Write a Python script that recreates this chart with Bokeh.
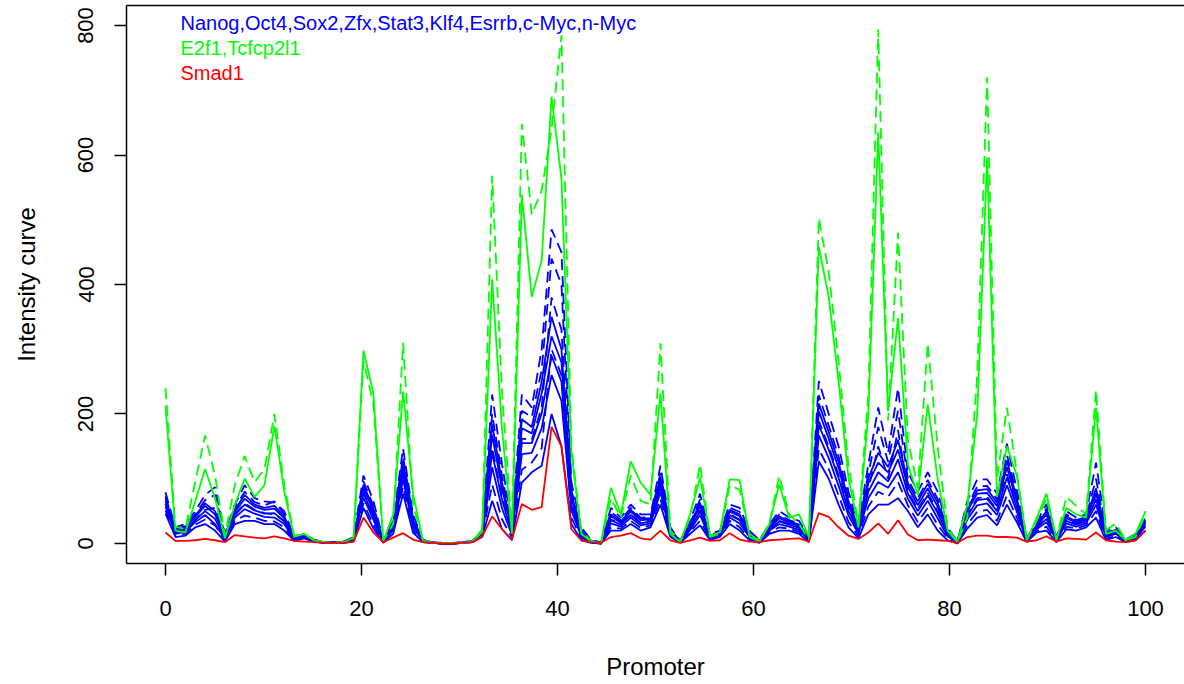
import numpy as np
from bokeh.plotting import figure
from bokeh.models import Range1d, Label, FixedTicker, LinearAxis
from bokeh.embed import file_html
from bokeh.resources import INLINE

# promoter positions (100 points spread over 0..100)
promoter = np.linspace(0, 100, 100)

nanog = [70, 21, 25, 43, 62, 50, 12, 52, 75, 60,
         55, 58, 42, 8, 13, 5, 2, 1, 2, 8,
         91, 54, 4, 29, 127, 37, 5, 1, 1, 1,
         1, 3, 17, 184, 94, 23, 192, 180, 250, 350,
         300, 77, 19, 4, 1, 45, 34, 52, 38, 39,
         103, 21, 3, 29, 63, 12, 17, 52, 45, 16,
         4, 26, 42, 34, 29, 8, 216, 172, 125, 65,
         24, 100, 140, 118, 160, 93, 65, 92, 63, 19,
         2, 54, 82, 84, 63, 128, 69, 6, 28, 50,
         8, 42, 34, 39, 85, 16, 21, 5, 12, 34]
oct4 = [79, 25, 30, 50, 75, 87, 15, 60, 90, 70,
        65, 63, 50, 10, 15, 6, 2, 2, 3, 10,
        105, 66, 5, 35, 147, 45, 6, 2, 1, 1,
        2, 4, 20, 230, 122, 30, 230, 210, 300, 485,
        450, 95, 25, 5, 2, 55, 40, 60, 45, 45,
        120, 25, 4, 35, 77, 15, 20, 60, 55, 20,
        5, 30, 50, 40, 35, 10, 251, 200, 150, 80,
        30, 122, 210, 140, 240, 110, 80, 110, 80, 25,
        3, 66, 99, 99, 77, 154, 83, 8, 33, 61,
        10, 50, 40, 45, 125, 20, 25, 6, 15, 40]
sox2 = [66, 19, 23, 41, 58, 45, 10, 49, 69, 57,
        52, 54, 39, 8, 12, 5, 2, 1, 2, 7,
        86, 50, 3, 27, 120, 34, 4, 1, 1, 1,
        1, 3, 16, 168, 84, 21, 178, 170, 232, 320,
        280, 70, 17, 3, 1, 42, 32, 49, 36, 37,
        97, 19, 3, 27, 58, 11, 16, 49, 42, 14,
        3, 24, 39, 32, 27, 7, 204, 162, 116, 59,
        22, 93, 125, 110, 145, 87, 59, 85, 57, 17,
        2, 50, 77, 78, 58, 118, 64, 6, 27, 45,
        7, 39, 32, 37, 78, 14, 19, 4, 11, 32]
zfx = [73, 22, 27, 45, 67, 75, 13, 55, 80, 64,
       59, 65, 45, 9, 14, 5, 2, 2, 3, 9,
       96, 58, 4, 31, 134, 40, 5, 2, 1, 1,
       2, 4, 18, 200, 104, 26, 205, 195, 268, 440,
       400, 83, 21, 4, 1, 49, 36, 55, 40, 41,
       109, 22, 3, 31, 68, 13, 18, 55, 49, 17,
       4, 27, 45, 36, 31, 9, 229, 182, 134, 70,
       26, 108, 180, 126, 205, 99, 70, 98, 69, 21,
       3, 58, 88, 89, 68, 137, 74, 7, 30, 54,
       9, 45, 36, 41, 100, 17, 22, 5, 13, 36]
stat3 = [61, 17, 20, 36, 50, 38, 8, 44, 60, 51,
         46, 47, 34, 7, 11, 4, 1, 1, 2, 6,
         78, 42, 3, 24, 109, 30, 4, 1, 0, 0,
         1, 3, 15, 140, 67, 16, 155, 155, 201, 290,
         250, 59, 14, 3, 1, 36, 29, 44, 31, 34,
         87, 17, 2, 24, 50, 10, 15, 44, 36, 12,
         3, 22, 34, 29, 24, 6, 183, 145, 101, 50,
         18, 80, 110, 96, 130, 77, 50, 74, 47, 14,
         1, 42, 67, 69, 50, 102, 56, 5, 24, 38,
         6, 35, 29, 34, 68, 12, 17, 4, 10, 29]
klf4 = [62, 17, 21, 37, 52, 55, 9, 45, 62, 52,
        47, 45, 35, 7, 11, 4, 1, 1, 2, 6,
        80, 45, 3, 25, 112, 31, 4, 1, 0, 0,
        1, 3, 15, 148, 72, 18, 162, 160, 210, 380,
        330, 63, 15, 3, 1, 37, 30, 45, 32, 35,
        90, 17, 2, 25, 52, 10, 15, 45, 37, 12,
        3, 22, 35, 30, 25, 6, 189, 150, 105, 53,
        19, 84, 150, 100, 175, 80, 53, 78, 50, 15,
        1, 45, 70, 72, 52, 107, 58, 5, 25, 40,
        6, 36, 30, 35, 75, 12, 17, 4, 10, 30]
esrrb = [57, 15, 18, 33, 44, 30, 7, 40, 53, 46,
         41, 40, 30, 6, 10, 4, 1, 1, 1, 5,
         71, 37, 2, 21, 99, 26, 3, 1, 0, 0,
         1, 2, 13, 118, 54, 13, 138, 140, 178, 260,
         220, 51, 11, 2, 0, 31, 26, 40, 28, 31,
         79, 15, 2, 21, 44, 8, 13, 40, 31, 10,
         2, 20, 30, 26, 21, 5, 167, 132, 89, 43,
         15, 70, 95, 86, 110, 69, 43, 66, 39, 11,
         1, 37, 59, 62, 44, 90, 49, 4, 22, 33,
         5, 31, 26, 31, 60, 10, 15, 3, 8, 26]
cmyc = [51, 12, 15, 29, 37, 28, 5, 35, 43, 40,
        35, 34, 25, 5, 9, 3, 1, 1, 1, 4,
        62, 29, 2, 18, 88, 21, 2, 1, 0, 0,
        1, 2, 12, 91, 37, 9, 114, 125, 147, 300,
        260, 40, 8, 2, 0, 25, 23, 35, 24, 28,
        69, 12, 1, 18, 35, 7, 12, 35, 25, 7,
        2, 17, 25, 23, 18, 3, 146, 115, 74, 33,
        11, 57, 80, 72, 95, 59, 33, 55, 29, 8,
        0, 29, 49, 52, 35, 74, 40, 3, 19, 26,
        3, 26, 23, 28, 50, 7, 12, 2, 7, 23]
nmyc = [46, 10, 12, 25, 30, 20, 3, 30, 35, 35,
        30, 30, 20, 4, 8, 3, 1, 1, 1, 3,
        55, 23, 1, 15, 77, 17, 2, 1, 0, 0,
        1, 2, 10, 66, 22, 5, 94, 110, 120, 200,
        150, 30, 5, 1, 0, 20, 20, 30, 20, 25,
        60, 10, 1, 15, 28, 5, 10, 30, 20, 5,
        1, 15, 20, 20, 15, 2, 127, 100, 60, 25,
        8, 45, 60, 60, 70, 50, 25, 45, 20, 5,
        0, 23, 40, 44, 28, 60, 33, 2, 17, 20,
        2, 22, 20, 25, 40, 5, 10, 2, 5, 20]
e2f1 = [212, 20, 17, 65, 115, 70, 8, 60, 100, 72,
        90, 182, 80, 10, 15, 5, 2, 1, 2, 9,
        298, 232, 3, 45, 235, 77, 5, 1, 1, 1,
        1, 3, 22, 408, 176, 15, 538, 381, 437, 690,
        563, 140, 15, 3, 1, 86, 45, 127, 94, 75,
        232, 15, 2, 45, 102, 12, 17, 99, 98, 10,
        3, 30, 91, 40, 45, 10, 458, 381, 250, 100,
        25, 200, 635, 205, 348, 122, 75, 215, 100, 20,
        2, 60, 200, 596, 72, 150, 105, 5, 39, 77,
        6, 55, 45, 40, 210, 15, 20, 5, 15, 50]
tcfcp2l1 = [240, 26, 22, 95, 167, 105, 12, 90, 135, 95,
            115, 200, 90, 12, 15, 5, 2, 1, 2, 8,
            282, 215, 4, 30, 310, 60, 5, 1, 1, 1,
            1, 3, 18, 568, 232, 20, 648, 508, 545, 640,
            785, 150, 20, 4, 1, 70, 40, 105, 66, 60,
            309, 20, 3, 40, 122, 10, 15, 90, 83, 15,
            4, 30, 105, 45, 30, 6, 502, 420, 280, 120,
            30, 230, 794, 190, 480, 160, 86, 309, 150, 25,
            2, 40, 260, 720, 100, 210, 110, 5, 35, 70,
            6, 72, 58, 45, 237, 20, 31, 5, 10, 45]
smad1 = [17, 4, 4, 5, 7, 5, 2, 13, 11, 9,
         8, 11, 8, 4, 3, 2, 1, 1, 1, 3,
         40, 17, 2, 9, 16, 6, 2, 1, 0, 0,
         1, 2, 11, 42, 22, 6, 61, 52, 56, 180,
         150, 22, 5, 2, 1, 10, 12, 16, 8, 6,
         20, 5, 1, 5, 9, 4, 5, 16, 6, 3,
         2, 5, 6, 7, 8, 3, 47, 41, 25, 12,
         7, 17, 31, 15, 36, 14, 5, 6, 5, 4,
         1, 10, 12, 12, 10, 10, 9, 3, 5, 11,
         3, 8, 7, 6, 17, 5, 3, 2, 5, 20]

blue_names = ["Nanog", "Oct4", "Sox2", "Zfx", "Stat3", "Klf4", "Esrrb", "c-Myc", "n-Myc"]
blue_series = [nanog, oct4, sox2, zfx, stat3, klf4, esrrb, cmyc, nmyc]
green_names = ["E2f1", "Tcfcp2l1"]
green_series = [e2f1, tcfcp2l1]
red_names = ["Smad1"]
red_series = [smad1]

x_ticks = [0, 20, 40, 60, 80, 100]
y_ticks = [0, 200, 400, 600, 800]

BLUE, GREEN, RED = "#0000FF", "#00FF00", "#FF0000"
FONT = "Liberation Sans"
DASH = "11 6"

p = figure(width=1184, height=684, output_backend="svg", toolbar_location=None,
           x_range=Range1d(-3.98, 103.98), y_range=Range1d(-30.9, 830.9),
           min_border_left=126, min_border_right=0, min_border_top=5,
           min_border_bottom=121)
p.grid.visible = False
p.outline_line_color = None
p.background_fill_color = "white"
p.border_fill_color = "white"

xax = p.below[0]
yax = p.left[0]

# top border of the box (the right side is cut off in the reference)
top = LinearAxis(ticker=FixedTicker(ticks=[]), major_tick_out=0, major_tick_in=0,
                 minor_tick_out=0, minor_tick_in=0, major_label_standoff=0,
                 axis_line_width=1.5, axis_line_color="black")
p.add_layout(top, "above")

for k, s in enumerate(blue_series):
    p.line(promoter, s, line_color=BLUE, line_width=1.8,
           line_dash=(DASH if k % 2 == 1 else "solid"))
for k, s in enumerate(green_series):
    p.line(promoter, s, line_color=GREEN, line_width=1.8,
           line_dash=(DASH if k % 2 == 1 else "solid"))
for s in red_series:
    p.line(promoter, s, line_color=RED, line_width=1.8)

for ax in (xax, yax):
    ax.major_tick_out = 12
    ax.major_tick_in = 0
    ax.minor_tick_out = 0
    ax.minor_tick_in = 0
    ax.major_tick_line_width = 1.5
    ax.axis_line_width = 1.5
    ax.major_label_text_font = FONT
    ax.major_label_text_font_size = "22px"
    ax.major_label_text_color = "black"
    ax.axis_label_text_font = FONT
    ax.axis_label_text_font_size = "24px"
    ax.axis_label_text_font_style = "normal"
    ax.axis_label_text_color = "black"

xax.ticker = FixedTicker(ticks=x_ticks)
yax.ticker = FixedTicker(ticks=y_ticks)
xax.axis_label = "Promoter"
yax.axis_label = "Intensity curve"
xax.major_label_standoff = 25
xax.axis_label_standoff = 34
yax.major_label_orientation = "vertical"
yax.major_label_standoff = 21
yax.axis_label_standoff = 36

legend_rows = [(",".join(blue_names), BLUE, 804),
               (",".join(green_names), GREEN, 766),
               (",".join(red_names), RED, 726)]
for txt, col, yy in legend_rows:
    p.add_layout(Label(x=1.53, y=yy, text=txt, text_color=col,
                       text_font=FONT, text_font_size="20px",
                       text_baseline="middle", text_align="left"))

open("out.html", "w").write(file_html(p, INLINE))
